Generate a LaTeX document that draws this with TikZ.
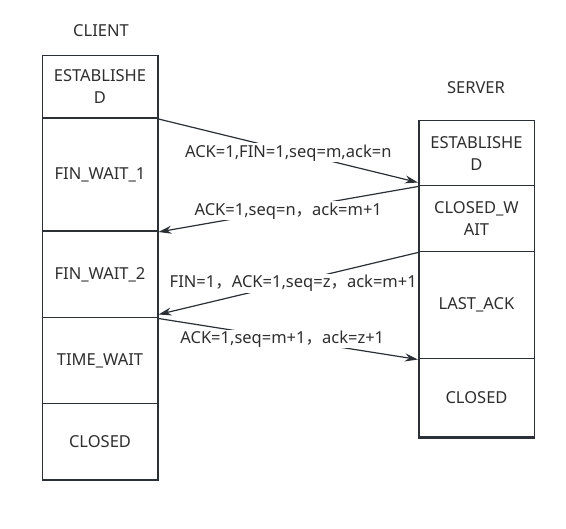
\documentclass[tikz,border=0pt]{standalone}
\usepackage{fontspec}
\setmainfont{Noto Sans}
\newfontfamily\cjk{Noto Sans CJK SC}
\newcommand{\fwc}{{\cjk ，}}
\usetikzlibrary{arrows.meta}
\definecolor{boxline}{HTML}{2B2F36}
\definecolor{txt}{HTML}{2E2E2E}
\tikzset{
  state/.style={draw=boxline, line width=1.5pt, minimum width=115.5pt, inner sep=0pt, anchor=north west, align=center, text=txt, font=\fontsize{16.5}{22}\selectfont},
  title/.style={text=txt, font=\fontsize{16.5}{22}\selectfont},
  msg/.style={draw=boxline, line width=1.2pt, -{Stealth[length=13pt,width=8pt]}},
  lbl/.style={fill=white, text=txt, inner xsep=0pt, inner ysep=1pt, font=\fontsize{16.5}{22}\selectfont}
}
\begin{document}
\begin{tikzpicture}[x=1pt,y=-1pt]
\useasboundingbox (0,0) rectangle (566,529);
% client
\node[title] (client) at (101,31) {CLIENT};
\node[state, minimum height=62.5pt] (c1) at (41.5,55) {ESTABLISHE\\D};
\node[state, minimum height=113pt] (c2) at (41.5,117.5) {FIN\_WAIT\_1};
\node[state, minimum height=86.5pt] (c3) at (41.5,230.5) {FIN\_WAIT\_2};
\node[state, minimum height=86pt] (c4) at (41.5,317) {TIME\_WAIT};
\node[state, minimum height=76.5pt] (c5) at (41.5,403) {CLOSED};
% server
\node[title] (server) at (476,88) {SERVER};
\node[state, minimum height=65pt] (s1) at (418,120) {ESTABLISHE\\D};
\node[state, minimum height=66pt] (s2) at (418,185) {CLOSED\_W\\AIT};
\node[state, minimum height=107pt] (s3) at (418,251) {LAST\_ACK};
\node[state, minimum height=78pt] (s4) at (418,358) {CLOSED};
\draw[boxline, line width=2.5pt] (s4.south west) -- (s4.south east);
% messages
\draw[msg] (c1.south east) -- node[lbl, yshift=-2pt] (m1) {ACK=1,FIN=1,seq=m,ack=n} ([yshift=4pt]s1.south west);
\draw[msg] (s1.south west) -- node[lbl, yshift=-1.5pt] (m2) {ACK=1,seq=n\fwc ack=m+1} (c2.south east);
\draw[msg] (s2.south west) -- node[lbl, xshift=5pt] (m3) {FIN=1\fwc ACK=1,seq=z\fwc ack=m+1} ([yshift=4pt]c3.south east);
\draw[msg] (c3.south east) -- node[lbl, xshift=-6pt] (m4) {ACK=1,seq=m+1\fwc ack=z+1} (s3.south west);
\end{tikzpicture}
\end{document}
